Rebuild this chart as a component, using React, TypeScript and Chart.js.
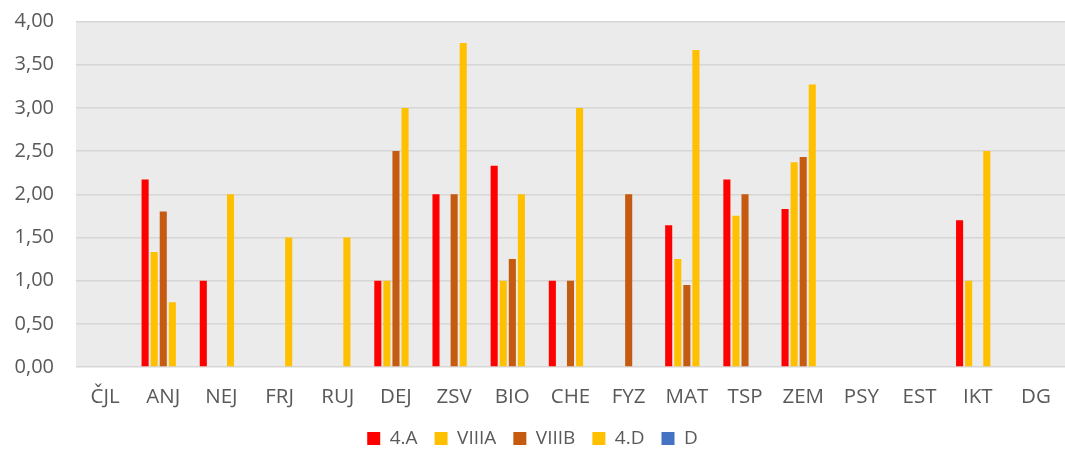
import React, { useEffect, useRef } from "react";
import { Chart, registerables } from "chart.js";

Chart.register(...registerables);

const categories = ["ČJL", "ANJ", "NEJ", "FRJ", "RUJ", "DEJ", "ZSV", "BIO", "CHE", "FYZ", "MAT", "TSP", "ZEM", "PSY", "EST", "IKT", "DG"];
const series4A = [null, 2.17, 1.0, null, null, 1.0, 2.0, 2.33, 1.0, null, 1.64, 2.17, 1.83, null, null, 1.7, null];
const seriesVIIIA = [null, 1.33, null, null, null, 1.0, null, 1.0, null, null, 1.25, 1.75, 2.37, null, null, 1.0, null];
const seriesVIIIB = [null, 1.8, null, null, null, 2.5, 2.0, 1.25, 1.0, 2.0, 0.95, 2.0, 2.43, null, null, null, null];
const series4D = [null, 0.75, 2.0, 1.5, 1.5, 3.0, 3.75, 2.0, 3.0, null, 3.67, null, 3.27, null, null, 2.5, null];
const seriesD: (number | null)[] = [null, null, null, null, null, null, null, null, null, null, null, null, null, null, null, null, null];
const seriesNames = ["4.A", "VIIIA", "VIIIB", "4.D", "D"];
const seriesColors = ["#FF0000", "#FFC000", "#C55A11", "#FFC000", "#4472C4"];

const FONT = "'Open Sans', 'DejaVu Sans', sans-serif";

export default function App() {
  const ref = useRef<HTMLCanvasElement | null>(null);
  useEffect(() => {
    document.body.style.margin = "0";
    const values = [series4A, seriesVIIIA, seriesVIIIB, series4D, seriesD];
    const bgPlugin = {
      id: "plotBg",
      beforeDraw(chart: any) {
        const { ctx, chartArea } = chart;
        ctx.save();
        ctx.fillStyle = "#EBEBEB";
        ctx.fillRect(chartArea.left, chartArea.top, chartArea.right - chartArea.left, chartArea.bottom - chartArea.top);
        ctx.restore();
      },
    };
    const chart = new Chart(ref.current!, {
      type: "bar",
      data: {
        labels: categories,
        datasets: values.map((v, i) => ({
          label: seriesNames[i],
          data: v,
          backgroundColor: seriesColors[i],
          borderWidth: 0,
          barPercentage: 0.78,
          categoryPercentage: 0.78,
        })),
      },
      options: {
        animation: false,
        responsive: false,
        maintainAspectRatio: false,
        layout: { padding: { top: 21.5, right: 0, left: 0, bottom: -5 } },
        plugins: {
          tooltip: { enabled: false },
          legend: {
            position: "bottom",
            labels: {
              boxWidth: 13,
              boxHeight: 13,
              padding: 17,
              color: "#595959",
              font: { family: FONT, size: 19 },
            },
          },
        },
        scales: {
          x: {
            grid: { display: false },
            border: { display: false },
            ticks: { color: "#595959", font: { family: FONT, size: 20.5 }, padding: 10, maxRotation: 0, autoSkip: false },
            afterFit(scale: any) {
              scale.height = 45;
              scale.paddingLeft = 0;
              scale.paddingRight = 0;
            },
          },
          y: {
            min: 0,
            max: 4,
            grid: { color: "#D6D6D6", lineWidth: 1.5, drawTicks: false },
            border: { display: false },
            ticks: {
              stepSize: 0.5,
              color: "#595959",
              font: { family: FONT, size: 20 },
              padding: 22,
              callback: (v: any) => Number(v).toFixed(2).replace(".", ","),
            },
            afterFit(scale: any) {
              scale.width = 76;
              scale.paddingTop = 0;
              scale.paddingBottom = 0;
            },
          },
        },
      },
      plugins: [bgPlugin],
    });
    return () => chart.destroy();
  }, []);
  return (
    <div style={{ width: 1065, height: 453 }}>
      <canvas ref={ref} width={1065} height={453} style={{ display: "block" }} />
    </div>
  );
}
